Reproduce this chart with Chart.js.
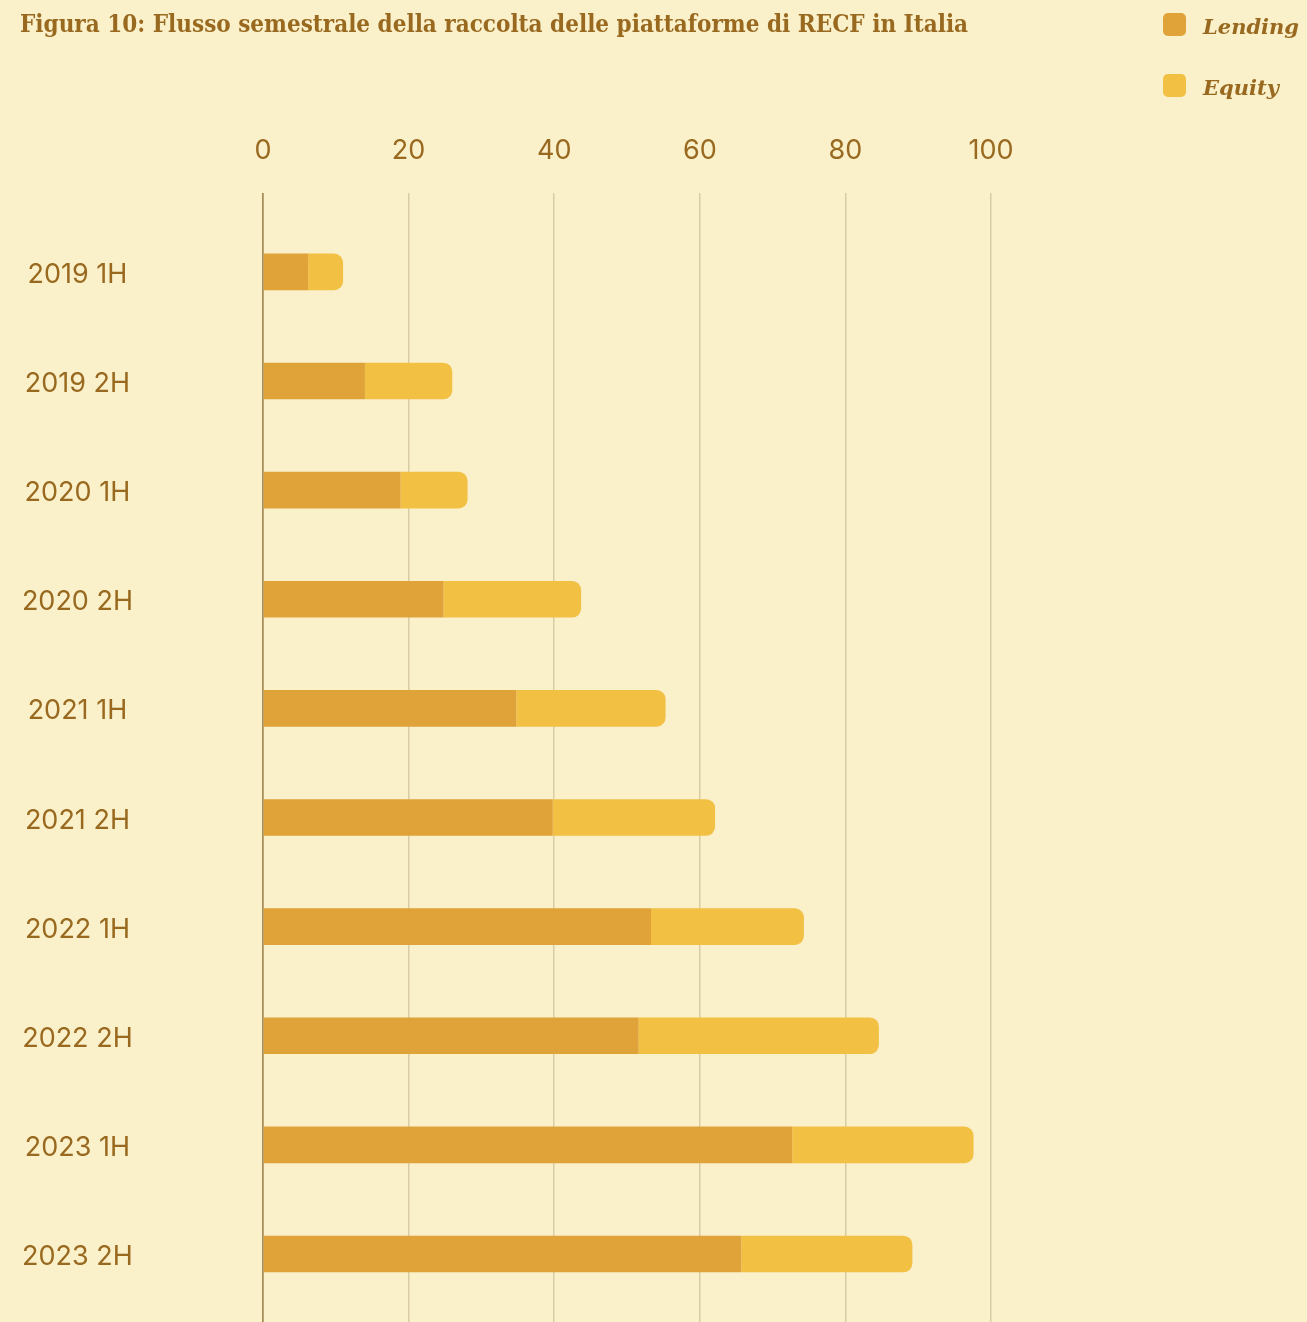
<!DOCTYPE html>
<html lang="it">
<head>
<meta charset="utf-8">
<title>Flusso semestrale della raccolta delle piattaforme di RECF in Italia</title>
<script src="https://cdn.jsdelivr.net/npm/chart.js@4/dist/chart.umd.min.js"></script>
<style>
    html, body {
        margin: 0;
        padding: 0;
        background: #FAF0CA;
        overflow: hidden;
    }
    .chart-wrap {
        position: relative;
        width: 1307px;
        height: 1322px;
    }
</style>
</head>
<body>
<div class="chart-wrap">
    <canvas id="raccoltaChart"></canvas>
</div>
<script>
// Semesters on the vertical axis
const semesters = ['2019 1H', '2019 2H', '2020 1H', '2020 2H', '2021 1H',
                   '2021 2H', '2022 1H', '2022 2H', '2023 1H', '2023 2H'];

// Raised amounts per semester (milioni di euro)
const lending = [6.2, 14.0, 18.9, 24.8, 34.8, 39.8, 53.3, 51.6, 72.7, 65.7];
const equity = [4.8, 12.0, 9.2, 18.9, 20.5, 22.3, 21.0, 33.0, 24.9, 23.5];

// Value axis ticks
const xTicks = [0, 20, 40, 60, 80, 100];

const textColor = '#98691F';
const gridColor = '#D9CCA4';
const axisColor = '#A68C58';
const lendingColor = '#DFA33A';
const equityColor = '#F2C043';

const titleText = 'Figura 10: Flusso semestrale della raccolta delle piattaforme di RECF in Italia';

// Title in the top-left corner and a stacked key in the top-right corner
const cornerText = {
    id: 'cornerText',
    afterDraw(chart) {
        const ctx = chart.ctx;
        ctx.save();
        ctx.fillStyle = textColor;
        ctx.textAlign = 'left';
        ctx.textBaseline = 'alphabetic';
        ctx.font = 'bold 24px "DejaVu Serif Condensed", "Liberation Serif", serif';
        ctx.fillText(titleText, 20, 32);

        ctx.font = 'italic bold 21px "DejaVu Serif", serif';
        chart.data.datasets.forEach((ds, i) => {
            const top = 13 + i * 61;
            ctx.fillStyle = ds.backgroundColor;
            ctx.beginPath();
            ctx.roundRect(1163, top, 23, 23, 5);
            ctx.fill();
            ctx.fillStyle = textColor;
            ctx.fillText(ds.label, 1203, top + 21);
        });
        ctx.restore();
    }
};

const ctx = document.getElementById('raccoltaChart');

new Chart(ctx, {
    type: 'bar',
    data: {
        datasets: [{
            label: 'Lending',
            data: lending.map((v, i) => ({ x: v, y: i })),
            backgroundColor: lendingColor,
            borderWidth: 0,
            borderRadius: 0
        }, {
            label: 'Equity',
            data: equity.map((v, i) => ({ x: v, y: i })),
            backgroundColor: equityColor,
            borderWidth: 0,
            borderRadius: 9
        }]
    },
    options: {
        indexAxis: 'y',
        responsive: true,
        maintainAspectRatio: false,
        animation: false,
        barPercentage: 0.336,
        categoryPercentage: 1,
        layout: {
            padding: { top: 109, right: 316, bottom: 0, left: 0 }
        },
        plugins: {
            legend: { display: false },
            title: { display: false },
            tooltip: { enabled: false }
        },
        scales: {
            x: {
                position: 'top',
                stacked: true,
                min: 0,
                max: 100,
                afterBuildTicks: (scale) => {
                    scale.ticks = xTicks.map(v => ({ value: v }));
                },
                grid: {
                    drawTicks: false,
                    lineWidth: 1.5,
                    color: (c) => c.tick && c.tick.value === 0 ? axisColor : gridColor
                },
                border: { display: false },
                ticks: {
                    padding: 26,
                    color: textColor,
                    font: { family: 'Inter', size: 27 }
                }
            },
            y: {
                type: 'linear',
                offset: false,
                stacked: true,
                reverse: true,
                min: -0.719,
                max: 9.623,
                afterBuildTicks: (scale) => {
                    scale.ticks = semesters.map((s, i) => ({ value: i }));
                },
                afterFit: (scale) => {
                    // fixed label column, no extra room reserved above/below
                    scale.width = 263;
                    scale.paddingTop = 0;
                    scale.paddingBottom = 0;
                },
                // invisible tick marks push the centred labels away from the axis
                grid: {
                    display: true,
                    offset: false,
                    color: 'transparent',
                    drawOnChartArea: false,
                    drawTicks: true,
                    tickLength: 128
                },
                border: { display: true, color: axisColor, width: 1.5 },
                ticks: {
                    crossAlign: 'center',
                    padding: 2,
                    labelOffset: 3,
                    color: textColor,
                    font: { family: 'Inter', size: 27 },
                    callback: (v) => semesters[v]
                }
            }
        }
    },
    plugins: [cornerText]
});
</script>
</body>
</html>
